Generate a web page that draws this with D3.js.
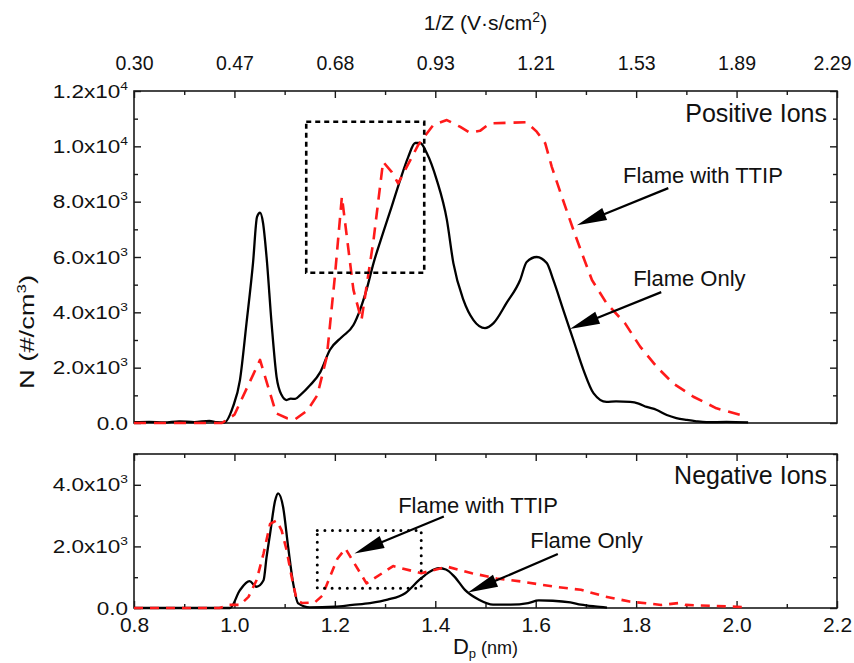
<!DOCTYPE html>
<html><head><meta charset="utf-8">
<script src="https://cdn.jsdelivr.net/npm/d3@7"></script>
<style>
body{margin:0;background:#fff}
text{font-family:"Liberation Sans",Arial,sans-serif;fill:#111}
</style>
</head><body>
<svg id="c" width="854" height="663"></svg>
<script>
// ---------- data ----------
const dpTicks = [0.8, 1.0, 1.2, 1.4, 1.6, 1.8, 2.0, 2.2];
const dpMinor = [0.9, 1.1, 1.3, 1.5, 1.7, 1.9, 2.1];
const invZLabels = ["0.30", "0.47", "0.68", "0.93", "1.21", "1.53", "1.89", "2.29"];
const posTicks = [0, 2000, 4000, 6000, 8000, 10000, 12000];
const posMinor = [1000, 3000, 5000, 7000, 9000, 11000];
const posTickLabels = [["0.0", ""], ["2.0x10", "3"], ["4.0x10", "3"], ["6.0x10", "3"], ["8.0x10", "3"], ["1.0x10", "4"], ["1.2x10", "4"]];
const negTicks = [0, 2000, 4000];
const negMinor = [1000, 3000, 5000];
const negTickLabels = [["0.0", ""], ["2.0x10", "3"], ["4.0x10", "3"]];

// Positive ions, flame only (black solid)  [Dp nm, N #/cm3]
const posFlame = [[0.80,30],[0.83,40],[0.86,20],[0.89,60],[0.92,30],[0.95,80],[0.965,30],[0.98,20],[0.997,580],[1.011,1550],[1.024,3600],[1.037,5780],[1.045,7450],[1.051,7600],[1.057,7230],[1.064,6000],[1.074,3600],[1.084,1660],[1.094,1010],[1.104,830],[1.112,880],[1.121,870],[1.131,1010],[1.151,1370],[1.171,1840],[1.19,2640],[1.214,3110],[1.237,3540],[1.25,4080],[1.263,4810],[1.277,5780],[1.296,6870],[1.313,7810],[1.33,8780],[1.346,9610],[1.36,10120],[1.37,10120],[1.383,9760],[1.403,8780],[1.423,7350],[1.436,5780],[1.456,4450],[1.476,3720],[1.499,3430],[1.516,3610],[1.542,4340],[1.569,5170],[1.582,5820],[1.602,6000],[1.622,5780],[1.635,5170],[1.655,4080],[1.675,3000],[1.695,1920],[1.715,1080],[1.741,760],[1.76,780],[1.788,760],[1.805,700],[1.821,580],[1.84,480],[1.861,290],[1.88,180],[1.901,110],[1.92,60],[1.94,30],[1.98,40],[2.023,20]];
// Positive ions, flame with TTIP (red dashed)
const posTtip = [[0.80,0],[0.975,0],[1.0,300],[1.051,2280],[1.083,350],[1.105,170],[1.12,120],[1.145,450],[1.165,1000],[1.184,2400],[1.2,5290],[1.214,8180],[1.237,4810],[1.253,3720],[1.277,6610],[1.296,9440],[1.313,9080],[1.326,8660],[1.366,10050],[1.396,10770],[1.423,10950],[1.449,10710],[1.469,10490],[1.489,10560],[1.509,10830],[1.582,10870],[1.602,10530],[1.619,10110],[1.632,9260],[1.652,8180],[1.675,6980],[1.692,6130],[1.712,5170],[1.741,4330],[1.778,3600],[1.808,2760],[1.841,2030],[1.874,1430],[1.914,950],[1.96,530],[2.02,230]];
// Negative ions, flame only (black solid)
const negFlame = [[0.80,0],[0.95,0],[0.991,0],[1.011,580],[1.03,870],[1.044,690],[1.058,900],[1.064,1650],[1.071,2410],[1.081,3480],[1.087,3720],[1.097,3270],[1.107,1980],[1.117,800],[1.127,150],[1.15,20],[1.2,40],[1.235,100],[1.27,160],[1.305,270],[1.34,480],[1.368,910],[1.389,1180],[1.407,1290],[1.421,1250],[1.438,1020],[1.459,590],[1.487,270],[1.515,110],[1.55,110],[1.585,160],[1.606,245],[1.634,235],[1.669,180],[1.69,110],[1.718,50],[1.742,10]];
// Negative ions, flame with TTIP (red dashed)
const negTtip = [[0.80,0],[0.97,0],[0.99,100],[1.011,100],[1.028,360],[1.044,900],[1.058,1770],[1.071,2730],[1.084,2840],[1.094,2520],[1.104,1870],[1.114,1010],[1.124,260],[1.135,160],[1.16,180],[1.175,400],[1.19,1000],[1.205,1600],[1.221,1930],[1.263,800],[1.316,1360],[1.372,1130],[1.424,1340],[1.473,1130],[1.522,960],[1.571,860],[1.634,700],[1.69,590],[1.739,370],[1.787,210],[1.85,100],[1.885,160],[1.899,100],[1.983,50],[2.018,30]];

// ---------- layout ----------
const svg = d3.select("#c");
const L = 134, R = 837;
const x = d3.scaleLinear().domain([0.8, 2.2]).range([L, R]);
const yT = d3.scaleLinear().domain([0, 12000]).range([423, 91]);
const yB = d3.scaleLinear().domain([0, 5000]).range([608, 454]);
const INK = "#1a1a1a";
const FONT = '"Liberation Sans",Arial,sans-serif';

function styleAxis(g) {
  g.select(".domain").remove();
  g.selectAll(".tick line").attr("stroke", INK).attr("stroke-width", 1.4);
}

// ticks (inward)
function xTicks(yPos, orientTop) {
  const mk = orientTop ? d3.axisTop : d3.axisBottom;
  svg.append("g").attr("transform", `translate(0,${yPos})`)
    .call(mk(x).tickValues(dpTicks).tickSize(-7).tickFormat("")).call(styleAxis);
  svg.append("g").attr("transform", `translate(0,${yPos})`)
    .call(mk(x).tickValues(dpMinor).tickSize(-4).tickFormat("")).call(styleAxis);
}
function yTicks(y, majors, minors) {
  svg.append("g").attr("transform", `translate(${L},0)`)
    .call(d3.axisLeft(y).tickValues(majors).tickSize(-7).tickFormat("")).call(styleAxis);
  svg.append("g").attr("transform", `translate(${L},0)`)
    .call(d3.axisLeft(y).tickValues(minors).tickSize(-4).tickFormat("")).call(styleAxis);
  svg.append("g").attr("transform", `translate(${R},0)`)
    .call(d3.axisRight(y).tickValues(majors).tickSize(-7).tickFormat("")).call(styleAxis);
  svg.append("g").attr("transform", `translate(${R},0)`)
    .call(d3.axisRight(y).tickValues(minors).tickSize(-4).tickFormat("")).call(styleAxis);
}
xTicks(yT.range()[1], true);
xTicks(yB.range()[1], true);
xTicks(yB.range()[0], false);
yTicks(yT, posTicks, posMinor);
yTicks(yB, negTicks, negMinor);

// y tick labels with superscripts
function yLabels(y, ticks, labels) {
  ticks.forEach((t, i) => {
    const txt = svg.append("text")
      .attr("transform", `translate(${L - 6},${y(t) + 6.5}) scale(1.25,1)`)
      .attr("text-anchor", "end").attr("font-size", 18);
    txt.append("tspan").text(labels[i][0]);
    if (labels[i][1]) txt.append("tspan").attr("font-size", 11).attr("dy", -8).text(labels[i][1]);
  });
}
yLabels(yT, posTicks, posTickLabels);
yLabels(yB, negTicks, negTickLabels);

// bottom x labels
svg.append("g").attr("transform", `translate(0,${yB.range()[0]})`)
  .call(d3.axisBottom(x).tickValues(dpTicks).tickSize(0).tickPadding(9).tickFormat(d3.format(".1f")))
  .call(g => g.select(".domain").remove())
  .selectAll("text").attr("font-size", 21).attr("fill", "#111").attr("font-family", FONT);

// top 1/Z labels
svg.append("g").attr("transform", `translate(0,${yT.range()[1]})`)
  .call(d3.axisTop(x).tickValues(dpTicks).tickSize(0).tickPadding(21).tickFormat((d, i) => invZLabels[i]))
  .call(g => g.select(".domain").remove())
  .selectAll("text").attr("font-size", 19.5).attr("fill", "#111").attr("font-family", FONT)
  .attr("dx", (d, i) => i === invZLabels.length - 1 ? -5 : 0);

// frames
[yT, yB].forEach(y => {
  svg.append("rect").attr("x", L).attr("y", y.range()[1]).attr("width", R - L).attr("height", y.range()[0] - y.range()[1])
    .attr("fill", "none").attr("stroke", INK).attr("stroke-width", 1.6);
});

// curves
function curve(data, y, color, dash) {
  svg.append("path").datum(data)
    .attr("d", d3.line().x(d => x(d[0])).y(d => y(d[1])).curve(dash ? d3.curveLinear : d3.curveMonotoneX))
    .attr("fill", "none").attr("stroke", color).attr("stroke-width", dash ? 2.6 : 2.3)
    .attr("stroke-linejoin", "round")
    .attr("stroke-dasharray", dash || null);
}
curve(posFlame, yT, "#000", null);
curve(posTtip, yT, "#ff1a1a", "12,8");
curve(negFlame, yB, "#000", null);
curve(negTtip, yB, "#ff1a1a", "9,7");

// annotations
function box(y, d0, d1, v0, v1, dash, cap) {
  svg.append("rect").attr("x", x(d0)).attr("y", y(v1)).attr("width", x(d1) - x(d0)).attr("height", y(v0) - y(v1))
    .attr("fill", "none").attr("stroke", "#000").attr("stroke-width", cap ? 3 : 2.6)
    .attr("stroke-dasharray", dash).attr("stroke-linecap", cap || "butt");
}
box(yT, 1.143, 1.378, 5430, 10890, "5,4", null);
box(yB, 1.165, 1.372, 645, 2520, "0,7.6", "round");

function label(y, d, v, s, size, anchor) {
  svg.append("text").attr("x", x(d)).attr("y", y(v)).attr("font-size", size)
    .attr("text-anchor", anchor || "start").text(s);
}
function arrow(y, d0, v0, d1, v1) {
  const x0 = x(d0), y0 = y(v0), x1 = x(d1), y1 = y(v1);
  const dx = x1 - x0, dy = y1 - y0, len = Math.hypot(dx, dy);
  const ux = dx / len, uy = dy / len, hl = 30, hw = 6.5;
  const bx = x1 - ux * hl, by = y1 - uy * hl;
  svg.append("line").attr("x1", x0).attr("y1", y0).attr("x2", bx + ux * 2).attr("y2", by + uy * 2)
    .attr("stroke", "#000").attr("stroke-width", 2.2);
  svg.append("path").attr("d", `M${x1},${y1}L${bx - uy * hw},${by + ux * hw}L${bx + uy * hw},${by - ux * hw}Z`).attr("fill", "#000");
}
label(yT, 2.18, 10880, "Positive Ions", 25, "end");
label(yT, 1.774, 8670, "Flame with TTIP", 22);
arrow(yT, 1.864, 8490, 1.682, 7150);
label(yT, 1.794, 4950, "Flame Only", 22);
arrow(yT, 1.850, 4730, 1.668, 3400);

label(yB, 2.18, 4030, "Negative Ions", 25, "end");
label(yB, 1.326, 3100, "Flame with TTIP", 22);
arrow(yB, 1.417, 2970, 1.239, 1770);
label(yB, 1.589, 1940, "Flame Only", 22);
arrow(yB, 1.644, 1750, 1.465, 500);

// axis titles
const t1 = svg.append("text").attr("x", (L + R) / 2).attr("y", 30).attr("text-anchor", "middle").attr("font-size", 21);
t1.append("tspan").text("1/Z (V\u00B7s/cm");
t1.append("tspan").attr("font-size", 14).attr("dy", -8).text("2");
t1.append("tspan").attr("dy", 8).text(")");

const t2 = svg.append("text").attr("transform", `translate(34,332) rotate(-90) scale(1.3,1)`).attr("text-anchor", "middle").attr("font-size", 21);
t2.append("tspan").text("N (#/cm");
t2.append("tspan").attr("font-size", 13).attr("dy", -8).text("3");
t2.append("tspan").attr("dy", 8).text(")");

const t3 = svg.append("text").attr("x", x(1.5)).attr("y", 654).attr("text-anchor", "middle").attr("font-size", 22);
t3.append("tspan").text("D");
t3.append("tspan").attr("font-size", 13).attr("dy", 4).text("p");
t3.append("tspan").attr("font-size", 18).attr("dy", -4).text(" (nm)");
</script>
</body></html>
